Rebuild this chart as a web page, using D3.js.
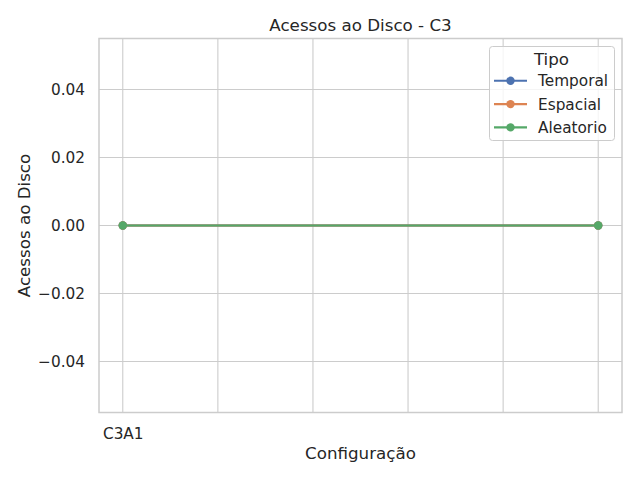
<!DOCTYPE html>
<html><head><meta charset="utf-8">
<script src="https://cdn.jsdelivr.net/npm/d3@7"></script>
<style>body{margin:0;background:#fff}svg{display:block}text{font-family:"DejaVu Sans",sans-serif;fill:#262626}</style>
</head><body><svg id="c" width="640" height="480"></svg>
<script>
const xPositions = [0, 1, 2, 3, 4, 5];
const xTickLabels = ["C3A1", "", "", "", "", ""];
const seriesNames = ["Temporal", "Espacial", "Aleatorio"];
const seriesColors = ["#4c72b0", "#dd8452", "#55a868"];
const pointX = [0, 5];
const temporalValues = [0, 0];
const espacialValues = [0, 0];
const aleatorioValues = [0, 0];
const yTicks = [-0.04, -0.02, 0.00, 0.02, 0.04];

const seriesValues = [temporalValues, espacialValues, aleatorioValues];
const svg = d3.select("#c");
const L = 99, R = 622, T = 38.5, B = 412.5;
const x = d3.scaleLinear().domain([-0.25, 5.25]).range([L, R]);
const y = d3.scaleLinear().domain([-0.055, 0.055]).range([B, T]);
const grid = "#cccccc";
const tickFs = 15.3, labelFs = 16.7;

// grid
const g = svg.append("g");
g.selectAll("line.vx").data(xPositions).join("line")
  .attr("x1", d => x(d)).attr("x2", d => x(d)).attr("y1", T).attr("y2", B)
  .attr("stroke", grid).attr("stroke-width", 1.1);
g.selectAll("line.hy").data(yTicks).join("line")
  .attr("x1", L).attr("x2", R).attr("y1", d => y(d)).attr("y2", d => y(d))
  .attr("stroke", grid).attr("stroke-width", 1.1);

// axes
const xAxis = d3.axisBottom(x).tickValues(xPositions).tickFormat((d, i) => xTickLabels[i]).tickSize(0).tickPadding(0);
const xg = svg.append("g").attr("transform", `translate(0,${B})`).call(xAxis);
xg.select(".domain").remove();
xg.selectAll("text").attr("dy", null).attr("y", 26).attr("font-size", tickFs).attr("fill", "#262626").style("font-family", "DejaVu Sans");

const fmt = v => (v < 0 ? "\u2212" : "") + Math.abs(v).toFixed(2);
const yAxis = d3.axisLeft(y).tickValues(yTicks).tickFormat(fmt).tickSize(0).tickPadding(14);
const yg = svg.append("g").attr("transform", `translate(${L},0)`).call(yAxis);
yg.select(".domain").remove();
yg.selectAll("text").attr("font-size", tickFs).attr("fill", "#262626").style("font-family", "DejaVu Sans");

// frame
svg.append("rect").attr("x", L).attr("y", T).attr("width", R - L).attr("height", B - T)
  .attr("fill", "none").attr("stroke", grid).attr("stroke-width", 1.5);

// series
const line = d3.line().x((d, i) => x(pointX[i])).y(d => y(d));
seriesValues.forEach((vals, si) => {
  svg.append("path").datum(vals).attr("d", line).attr("fill", "none")
    .attr("stroke", seriesColors[si]).attr("stroke-width", 2.1);
  svg.selectAll(null).data(vals).join("circle")
    .attr("cx", (d, i) => x(pointX[i])).attr("cy", d => y(d)).attr("r", 4.2)
    .attr("fill", seriesColors[si]);
});

// title and labels
svg.append("text").attr("x", (L + R) / 2).attr("y", 31).attr("text-anchor", "middle")
  .attr("font-size", labelFs).text("Acessos ao Disco - C3");
svg.append("text").attr("x", (L + R) / 2).attr("y", 459).attr("text-anchor", "middle")
  .attr("font-size", labelFs).text("Configuração");
svg.append("text").attr("transform", `translate(30,${(T + B) / 2}) rotate(-90)`).attr("text-anchor", "middle")
  .attr("font-size", labelFs).text("Acessos ao Disco");

// legend
const lg = svg.append("g");
lg.append("rect").attr("x", 489.5).attr("y", 46.5).attr("width", 125).attr("height", 94).attr("rx", 3)
  .attr("fill", "#ffffff").attr("fill-opacity", 0.8).attr("stroke", grid).attr("stroke-width", 1);
lg.append("text").attr("x", 551.5).attr("y", 65).attr("text-anchor", "middle").attr("font-size", labelFs).text("Tipo");
seriesNames.forEach((n, i) => {
  const yy = 80.8 + i * 23.3;
  lg.append("line").attr("x1", 494).attr("x2", 527).attr("y1", yy).attr("y2", yy)
    .attr("stroke", seriesColors[i]).attr("stroke-width", 2.1);
  lg.append("circle").attr("cx", 510.5).attr("cy", yy).attr("r", 4.2).attr("fill", seriesColors[i]);
  lg.append("text").attr("x", 538).attr("y", yy + 5.5).attr("font-size", tickFs).text(n);
});
</script></body></html>
